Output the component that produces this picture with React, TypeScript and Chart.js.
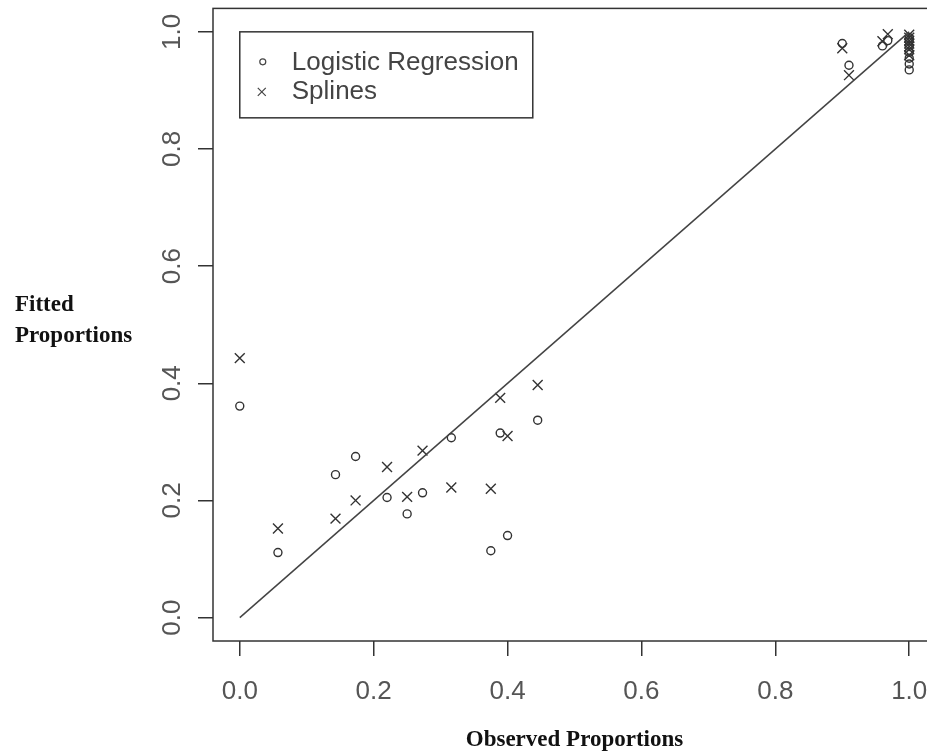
import React, { useEffect, useRef } from 'react';
import { Chart, registerables } from 'chart.js';

Chart.register(...registerables);

// Observed proportions (x) shared by both series
const observed = [0, 0.057, 0.143, 0.173, 0.22, 0.25, 0.273, 0.316, 0.375, 0.389, 0.4, 0.445, 0.9, 0.91, 0.96, 0.968, 1.0, 1.0, 1.0, 1.0, 1.0, 1.0, 1.0];
const logisticFitted = [0.361, 0.111, 0.244, 0.275, 0.205, 0.177, 0.213, 0.307, 0.114, 0.315, 0.14, 0.337, 0.98, 0.943, 0.976, 0.985, 0.935, 0.945, 0.955, 0.965, 0.975, 0.985, 0.99];
const splineFitted = [0.443, 0.152, 0.169, 0.2, 0.257, 0.206, 0.285, 0.222, 0.22, 0.375, 0.31, 0.397, 0.972, 0.926, 0.984, 0.996, 0.96, 0.97, 0.975, 0.98, 0.985, 0.99, 0.995];
const identityX = [0, 1];
const identityY = [0, 1];
const xTicks = [0, 0.2, 0.4, 0.6, 0.8, 1.0];
const yTicks = [0, 0.2, 0.4, 0.6, 0.8, 1.0];
const seriesLabels = ['Logistic Regression', 'Splines'];
const xTitle = 'Observed Proportions';
const yTitleLines = ['Fitted', 'Proportions'];

const INK = '#333';

const decorPlugin = {
  id: 'decor',
  afterDraw(chart: any) {
    const { ctx, chartArea: a, scales } = chart;
    ctx.save();
    // plot frame
    ctx.strokeStyle = INK;
    ctx.lineWidth = 1.5;
    ctx.strokeRect(a.left, a.top, a.right - a.left, a.bottom - a.top);

    // legend box anchored at data (0, 1)
    const lx = scales.x.getPixelForValue(0);
    const ly = scales.y.getPixelForValue(1);
    ctx.lineWidth = 1.5;
    ctx.strokeRect(lx, ly, 293, 86);
    ctx.font = '26px "Liberation Sans", Arial, sans-serif';
    ctx.fillStyle = '#444';
    ctx.textAlign = 'left';
    ctx.textBaseline = 'middle';
    const rows = [ly + 30, ly + 59];
    seriesLabels.forEach((lab, i) => {
      ctx.fillText(lab, lx + 52, rows[i] + 1);
    });
    // symbols
    ctx.strokeStyle = '#444';
    ctx.lineWidth = 1.2;
    ctx.beginPath();
    ctx.arc(lx + 23, rows[0], 3, 0, Math.PI * 2);
    ctx.stroke();
    ctx.beginPath();
    const cx = lx + 22, cy = rows[1] + 1, h = 4;
    ctx.moveTo(cx - h, cy - h); ctx.lineTo(cx + h, cy + h);
    ctx.moveTo(cx + h, cy - h); ctx.lineTo(cx - h, cy + h);
    ctx.stroke();

    // horizontal y-axis title
    ctx.font = 'bold 23px "Liberation Serif", "Times New Roman", serif';
    ctx.fillStyle = '#111';
    ctx.fillText(yTitleLines[0], 15, 305);
    ctx.fillText(yTitleLines[1], 15, 336);
    ctx.restore();
  },
};

export default function App() {
  const ref = useRef<HTMLCanvasElement | null>(null);

  useEffect(() => {
    if (!ref.current) return;
    const chart = new Chart(ref.current, {
      type: 'scatter',
      data: {
        datasets: [
          {
            type: 'line',
            label: 'identity',
            data: identityX.map((x, i) => ({ x, y: identityY[i] })),
            borderColor: '#444',
            borderWidth: 1.5,
            pointRadius: 0,
            showLine: true,
            fill: false,
          } as any,
          {
            label: seriesLabels[0],
            data: observed.map((x, i) => ({ x, y: logisticFitted[i] })),
            pointStyle: 'circle',
            pointRadius: 4,
            borderWidth: 1.4,
            borderColor: INK,
            backgroundColor: 'rgba(0,0,0,0)',
          },
          {
            label: seriesLabels[1],
            data: observed.map((x, i) => ({ x, y: splineFitted[i] })),
            pointStyle: 'crossRot',
            pointRadius: 7,
            borderWidth: 1.4,
            borderColor: INK,
            backgroundColor: INK,
          },
        ],
      },
      options: {
        animation: false,
        responsive: false,
        devicePixelRatio: 1,
        layout: { padding: { left: 0, top: 5, right: 24, bottom: 0 } },
        plugins: { legend: { display: false }, tooltip: { enabled: false } },
        scales: {
          x: {
            type: 'linear',
            min: -0.04,
            max: 1.04,
            afterBuildTicks: (s: any) => { s.ticks = xTicks.map((v) => ({ value: v })); },
            afterFit: (s: any) => { s.height = 111; s.paddingLeft = 0; s.paddingRight = 0; },
            border: { display: false },
            grid: { drawOnChartArea: false, drawTicks: true, tickLength: 15, color: INK, lineWidth: 1.5 },
            ticks: {
              padding: 20,
              color: '#555',
              font: { family: '"Liberation Sans", Arial, sans-serif', size: 26 },
              maxRotation: 0,
              minRotation: 0,
              callback: (v: any) => Number(v).toFixed(1),
            },
            title: {
              display: true,
              text: xTitle,
              color: '#111',
              font: { family: '"Liberation Serif", "Times New Roman", serif', size: 23, weight: 'bold' },
              padding: { top: 0, bottom: -2 },
            },
          },
          y: {
            type: 'linear',
            min: -0.04,
            max: 1.04,
            afterBuildTicks: (s: any) => { s.ticks = yTicks.map((v) => ({ value: v })); },
            afterFit: (s: any) => { s.width = 213; s.paddingTop = 0; s.paddingBottom = 0; },
            border: { display: false },
            grid: { drawOnChartArea: false, drawTicks: true, tickLength: 15, color: INK, lineWidth: 1.5 },
            ticks: {
              padding: 7,
              color: '#555',
              minRotation: 90,
              maxRotation: 90,
              crossAlign: 'center',
              font: { family: '"Liberation Sans", Arial, sans-serif', size: 26 },
              callback: (v: any) => Number(v).toFixed(1),
            },
          },
        },
      } as any,
      plugins: [decorPlugin],
    });
    return () => chart.destroy();
  }, []);

  return (
    <div style={{ position: 'absolute', left: 0, top: 0, width: 927, height: 752, overflow: 'hidden', background: '#fff' }}>
      <canvas ref={ref} width={960} height={752} style={{ display: 'block' }} />
    </div>
  );
}
